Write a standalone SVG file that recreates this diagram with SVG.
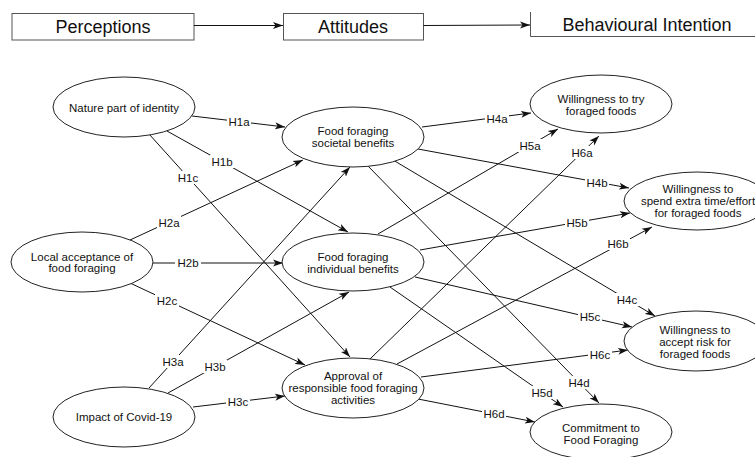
<svg xmlns="http://www.w3.org/2000/svg" width="755" height="457" viewBox="0 0 755 457">
<style>
  .hdr { fill: #fff; stroke: #555; stroke-width: 1; }
  .hdrtxt { font-family: "Liberation Sans", Arial, sans-serif; font-size: 18px; fill: #111; text-anchor: middle; }
  .node ellipse { fill: #fff; stroke: #222; stroke-width: 1; }
  .node text { font-family: "Liberation Sans", Arial, sans-serif; font-size: 11.5px; fill: #111; text-anchor: middle; }
  .conn line { stroke: #111; stroke-width: 1; fill: none; marker-end: url(#arr); }
  .lbl rect { fill: #fff; stroke: none; }
  .lbl text { font-family: "Liberation Sans", Arial, sans-serif; font-size: 11.5px; fill: #111; text-anchor: middle; }
</style>
<defs>
  <marker id="arr" markerUnits="userSpaceOnUse" markerWidth="11" markerHeight="8" refX="10" refY="4" orient="auto">
    <path d="M0,0.5 L10,4 L0,7.5 L2.5,4 z" fill="#111"/>
  </marker>
</defs>
<rect width="755" height="457" fill="#fff"/>

<!-- header -->
<g id="header">
  <g id="perceptions">
    <rect class="hdr" x="12" y="13.5" width="182" height="26.5"/>
    <text class="hdrtxt" x="103" y="33">Perceptions</text>
  </g>
  <g id="attitudes">
    <rect class="hdr" x="283.5" y="13.5" width="140" height="26.5"/>
    <text class="hdrtxt" x="353" y="33">Attitudes</text>
  </g>
  <g id="behavioural-intention">
    <path d="M530.5,12 V36.5 H755" fill="none" stroke="#555" stroke-width="1"/>
    <text class="hdrtxt" x="647" y="31">Behavioural Intention</text>
  </g>
  <line x1="194" y1="25.5" x2="283" y2="25.5" stroke="#111" stroke-width="1" marker-end="url(#arr)"/>
  <line x1="423.5" y1="25.5" x2="530" y2="25" stroke="#111" stroke-width="1" marker-end="url(#arr)"/>
</g>

<g id="connectors" class="conn">
  <line x1="192" y1="116" x2="285" y2="127"/>
  <line x1="167" y1="131" x2="348" y2="232"/>
  <line x1="149" y1="134" x2="350" y2="357"/>
  <line x1="130" y1="240" x2="303" y2="160"/>
  <line x1="153" y1="263" x2="283" y2="263"/>
  <line x1="130" y1="283" x2="305" y2="365"/>
  <line x1="149" y1="388" x2="350" y2="167"/>
  <line x1="168" y1="393" x2="349" y2="292"/>
  <line x1="193" y1="407" x2="285" y2="396"/>
  <line x1="422" y1="127" x2="531" y2="113"/>
  <line x1="418" y1="149" x2="629" y2="188"/>
  <line x1="393" y1="160" x2="655" y2="316"/>
  <line x1="368" y1="166" x2="599" y2="403"/>
  <line x1="378" y1="234" x2="558" y2="129"/>
  <line x1="420" y1="250" x2="630" y2="213"/>
  <line x1="415" y1="277" x2="632" y2="327"/>
  <line x1="390" y1="287" x2="563" y2="407"/>
  <line x1="370" y1="359" x2="599" y2="136"/>
  <line x1="397" y1="364" x2="652" y2="227"/>
  <line x1="421" y1="377" x2="628" y2="350"/>
  <line x1="418" y1="399" x2="535" y2="422"/>
</g>

<g id="labels" class="lbl">
  <g><rect x="227" y="115" width="24" height="13"/><text x="239" y="126">H1a</text></g>
  <g><rect x="210" y="155" width="24" height="13"/><text x="222" y="166">H1b</text></g>
  <g><rect x="176" y="171" width="24" height="13"/><text x="188" y="182">H1c</text></g>
  <g><rect x="157" y="216" width="24" height="13"/><text x="169" y="227">H2a</text></g>
  <g><rect x="175" y="256" width="26" height="13"/><text x="188" y="267">H2b</text></g>
  <g><rect x="155" y="294" width="24" height="13"/><text x="167" y="305">H2c</text></g>
  <g><rect x="161" y="355" width="24" height="13"/><text x="173" y="366">H3a</text></g>
  <g><rect x="203" y="360" width="24" height="13"/><text x="215" y="371">H3b</text></g>
  <g><rect x="226" y="395" width="24" height="13"/><text x="238" y="406">H3c</text></g>
  <g><rect x="485" y="112" width="24" height="13"/><text x="497" y="123">H4a</text></g>
  <g><rect x="585" y="176" width="24" height="13"/><text x="597" y="187">H4b</text></g>
  <g><rect x="615" y="293" width="24" height="13"/><text x="627" y="304">H4c</text></g>
  <g><rect x="567" y="376" width="24" height="13"/><text x="579" y="387">H4d</text></g>
  <g><rect x="518" y="139" width="24" height="13"/><text x="530" y="150">H5a</text></g>
  <g><rect x="565" y="216" width="24" height="13"/><text x="577" y="227">H5b</text></g>
  <g><rect x="578" y="310" width="24" height="13"/><text x="590" y="321">H5c</text></g>
  <g><rect x="530" y="386" width="24" height="13"/><text x="542" y="397">H5d</text></g>
  <g><rect x="570" y="146" width="24" height="13"/><text x="582" y="157">H6a</text></g>
  <g><rect x="606" y="237" width="24" height="13"/><text x="618" y="248">H6b</text></g>
  <g><rect x="588" y="348" width="24" height="13"/><text x="600" y="359">H6c</text></g>
  <g><rect x="482" y="407" width="24" height="13"/><text x="494" y="418">H6d</text></g>
</g>

<g id="nature" class="node">
  <ellipse cx="124" cy="107" rx="71" ry="30"/>
  <text x="124" y="112">Nature part of identity</text>
</g>
<g id="local" class="node">
  <ellipse cx="82" cy="262" rx="71" ry="30"/>
  <text x="82" y="261">Local acceptance of</text>
  <text x="82" y="272">food foraging</text>
</g>
<g id="covid" class="node">
  <ellipse cx="124" cy="417" rx="71" ry="30"/>
  <text x="124" y="421">Impact of Covid-19</text>
</g>
<g id="societal" class="node">
  <ellipse cx="353" cy="137" rx="71" ry="30"/>
  <text x="353" y="135">Food foraging</text>
  <text x="353" y="147">societal benefits</text>
</g>
<g id="individual" class="node">
  <ellipse cx="353" cy="262" rx="71" ry="29"/>
  <text x="353" y="261">Food foraging</text>
  <text x="353" y="273">individual benefits</text>
</g>
<g id="approval" class="node">
  <ellipse cx="353" cy="388" rx="71" ry="30"/>
  <text x="353" y="380">Approval of</text>
  <text x="353" y="392">responsible food foraging</text>
  <text x="353" y="404">activities</text>
</g>
<g id="try" class="node">
  <ellipse cx="601" cy="104" rx="71" ry="29"/>
  <text x="601" y="103">Willingness to try</text>
  <text x="601" y="115">foraged foods</text>
</g>
<g id="spend" class="node">
  <ellipse cx="697" cy="201" rx="73" ry="29"/>
  <text x="698" y="193">Willingness to</text>
  <text x="698" y="205">spend extra time/effort</text>
  <text x="698" y="217">for foraged foods</text>
</g>
<g id="risk" class="node">
  <ellipse cx="696" cy="341" rx="72" ry="30"/>
  <text x="695" y="334">Willingness to</text>
  <text x="695" y="346">accept risk for</text>
  <text x="695" y="358">foraged foods</text>
</g>
<g id="commitment" class="node">
  <ellipse cx="601" cy="432" rx="71" ry="28"/>
  <text x="601" y="432">Commitment to</text>
  <text x="601" y="444">Food Foraging</text>
</g>
</svg>
